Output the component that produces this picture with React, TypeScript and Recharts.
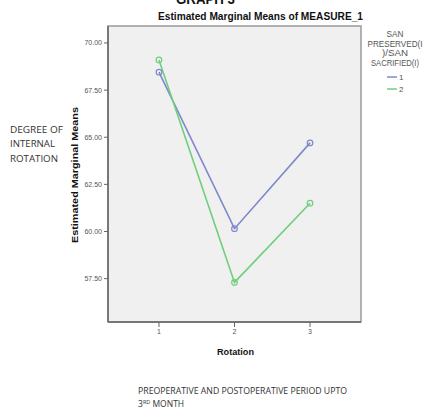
import { CartesianGrid, Line, LineChart, ReferenceArea, XAxis, YAxis } from "recharts";

// Estimated marginal means by rotation, two groups (SPSS-style profile plot)
const rotations = [1, 2, 3];
const group1 = [68.45, 60.15, 64.7];
const group2 = [69.1, 57.3, 61.5];
const yTicks = [57.5, 60, 62.5, 65, 67.5, 70];
const legendTitle = ["SAN", "PRESERVED(I", ")/SAN", "SACRIFIED(I)"];
const legendWidths = [17, 55, 26, 48];
const legendItems = ["1", "2"];

const BLUE = "#7f88cc";
const GREEN = "#6fcf7c";

const data = rotations.map((r, i) => ({ rotation: r, g1: group1[i], g2: group2[i] }));

const W = 425;
const H = 411;

const tick = { fontSize: 7, fill: "#555", fontFamily: "Liberation Sans, Arial, sans-serif" };

export default function App() {
  return (
    <div style={{ position: "absolute", left: 0, top: 0, width: W, height: H, background: "#fff" }}>
      <LineChart
        width={W}
        height={H}
        data={data}
        margin={{ top: 26, right: 64, left: 68, bottom: 59 }}
      >
        <CartesianGrid fill="#f0f0f0" stroke="none" horizontal={false} vertical={false} />
        <ReferenceArea
          x1={0.325}
          x2={3.675}
          y1={55.2}
          y2={70.9}
          fill="none"
          stroke="#9a9a9a"
          strokeWidth={1.5}
        />
        <XAxis
          dataKey="rotation"
          type="number"
          domain={[0.325, 3.675]}
          ticks={rotations}
          height={30}
          tick={tick}
          tickSize={5}
          tickLine={{ stroke: "#666" }}
          axisLine={{ stroke: "#777", strokeWidth: 2 }}
        />
        <YAxis
          type="number"
          domain={[55.2, 70.9]}
          ticks={yTicks}
          width={40}
          tick={tick}
          tickSize={4}
          tickFormatter={(v: number) => v.toFixed(2)}
          tickLine={{ stroke: "#666" }}
          axisLine={{ stroke: "#777", strokeWidth: 2 }}
        />
        <Line
          dataKey="g1"
          stroke={BLUE}
          strokeWidth={1.6}
          dot={{ r: 2.8, fill: "none", stroke: BLUE, strokeWidth: 1.2 }}
          isAnimationActive={false}
        />
        <Line
          dataKey="g2"
          stroke={GREEN}
          strokeWidth={1.6}
          dot={{ r: 2.8, fill: "none", stroke: GREEN, strokeWidth: 1.2 }}
          isAnimationActive={false}
        />
      </LineChart>

      <svg
        width={W}
        height={H}
        style={{ position: "absolute", left: 0, top: 0, pointerEvents: "none" }}
        fontFamily="Liberation Sans, Arial, sans-serif"
      >
        <text x={176} y={4} fontSize={14} fontWeight="bold" fill="#111" textLength={59} lengthAdjust="spacingAndGlyphs">
          GRAPH 3
        </text>
        <text x={158} y={20} fontSize={10} fontWeight="bold" fill="#111" textLength={205} lengthAdjust="spacingAndGlyphs">
          Estimated Marginal Means of MEASURE_1
        </text>
        <text
          x={78}
          y={175}
          fontSize={9}
          fontWeight="bold"
          fill="#111"
          textAnchor="middle"
          textLength={136}
          lengthAdjust="spacingAndGlyphs"
          transform="rotate(-90 78 175)"
        >
          Estimated Marginal Means
        </text>
        <text x={217} y={355} fontSize={9} fontWeight="bold" fill="#111" textLength={37} lengthAdjust="spacingAndGlyphs">
          Rotation
        </text>

        {legendTitle.map((t, i) => (
          <text
            key={t}
            x={395 - legendWidths[i] / 2}
            y={37 + i * 9.5}
            fontSize={8.5}
            fill="#555"
            textLength={legendWidths[i]}
            lengthAdjust="spacingAndGlyphs"
          >
            {t}
          </text>
        ))}
        {legendItems.map((t, i) => (
          <g key={t}>
            <line x1={387} x2={397} y1={77 + i * 12} y2={77 + i * 12} stroke={i === 0 ? BLUE : GREEN} strokeWidth={1.5} />
            <text x={399} y={80 + i * 12} fontSize={8} fill="#555">
              {t}
            </text>
          </g>
        ))}

        <g fontFamily="Open Sans, Liberation Sans, sans-serif" fontSize={9} fill="#333">
          <text x={10} y={133} textLength={53} lengthAdjust="spacingAndGlyphs">DEGREE OF</text>
          <text x={10} y={147} textLength={45} lengthAdjust="spacingAndGlyphs">INTERNAL</text>
          <text x={10} y={162} textLength={48} lengthAdjust="spacingAndGlyphs">ROTATION</text>
          <text x={138} y={394} textLength={209} lengthAdjust="spacingAndGlyphs">
            PREOPERATIVE AND POSTOPERATIVE PERIOD UPTO
          </text>
          <text x={138} y={407} fontSize={8.5}>
            3<tspan fontSize={5.5} dy={-3}>RD</tspan>
            <tspan dy={3}> MONTH</tspan>
          </text>
        </g>
      </svg>
    </div>
  );
}
